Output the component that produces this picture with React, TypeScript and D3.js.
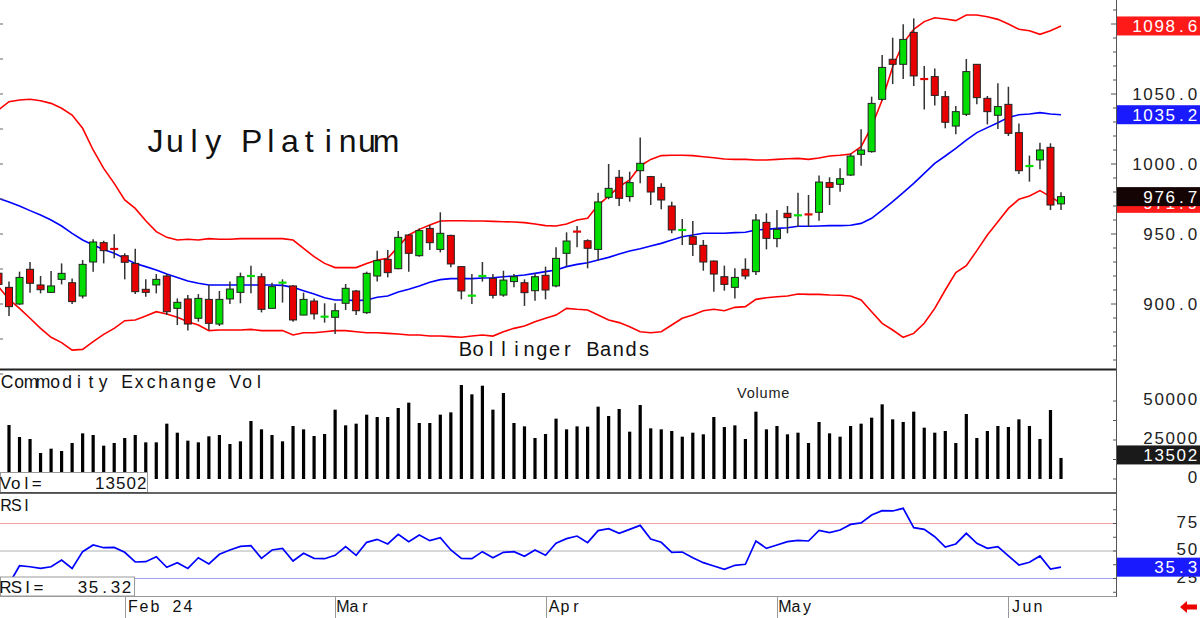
import React from "react";
import * as d3 from "d3";

// ---------------- DATA ----------------
const FIRST_BAR = -1; // partial bar at left edge
const opens = [922.0,
  911.9, 900.0, 924.8, 913.6, 908.3, 917.6, 915.2, 905.7, 930.0, 943.8,
  939.4, 934.5, 929.0, 910.5, 913.6, 920.0, 896.9, 903.6, 889.8, 903.3,
  885.7, 903.6, 908.3, 919.8, 919.5, 896.9, 915.0, 912.9, 892.1, 902.1,
  890.7, 890.5, 900.5, 909.3, 893.8, 920.0, 931.9, 925.2, 949.3, 934.5,
  954.0, 939.0, 949.0, 926.7, 905.7, 919.8, 918.3, 906.4, 916.0, 915.2,
  909.5, 920.5, 912.9, 936.2, 951.8, 945.2, 939.0, 976.2, 990.5, 976.7,
  995.2, 991.0, 983.3, 970.0, 952.6, 948.1, 941.9, 930.7, 919.5, 911.9,
  924.8, 923.1, 958.3, 946.7, 964.8, 963.1, 964.1, 965.5, 986.7, 985.5,
  992.1, 1006.9, 1008.8, 1046.2, 1074.8, 1071.2, 1094.0, 1060.8, 1062.4, 1048.1,
  1027.1, 1035.5, 1071.2, 1046.9, 1034.8, 1042.6, 1022.4, 998.3, 1002.9, 1011.9,
  971.5];
const highs = [926.7,
  916.0, 923.1, 930.0, 920.0, 923.6, 929.0, 918.3, 931.4, 946.2, 945.2,
  949.8, 936.2, 939.5, 917.6, 921.4, 921.4, 904.0, 906.4, 907.1, 913.6,
  909.3, 916.0, 922.4, 927.4, 921.9, 915.2, 917.6, 913.6, 908.1, 904.0,
  900.5, 900.5, 914.3, 910.0, 923.1, 938.1, 938.6, 952.1, 950.0, 954.0,
  956.4, 965.5, 949.5, 927.0, 921.4, 930.0, 921.4, 923.8, 921.4, 917.6,
  921.9, 926.7, 940.5, 951.2, 955.7, 946.2, 979.5, 1000.0, 995.7, 994.5,
  1019.0, 991.5, 986.2, 973.1, 960.7, 959.3, 945.7, 931.0, 927.4, 925.5,
  932.6, 964.3, 964.8, 967.1, 970.0, 979.5, 977.9, 991.7, 990.5, 996.9,
  1007.6, 1024.8, 1048.1, 1077.9, 1090.2, 1099.8, 1104.0, 1070.0, 1068.3, 1052.1,
  1041.4, 1075.0, 1071.5, 1048.6, 1057.6, 1055.2, 1029.0, 1006.0, 1015.2, 1014.8,
  979.8];
const lows = [912.0,
  891.4, 899.3, 908.1, 907.6, 908.3, 914.0, 900.0, 904.0, 923.1, 929.0,
  932.6, 917.6, 907.1, 905.2, 907.6, 892.1, 885.0, 881.0, 887.4, 881.4,
  884.3, 900.0, 900.5, 907.6, 894.0, 896.9, 901.0, 887.4, 892.1, 889.0,
  886.7, 878.6, 895.7, 892.1, 892.9, 916.0, 919.0, 924.8, 923.1, 933.8,
  938.6, 936.9, 926.2, 903.3, 900.0, 916.0, 904.0, 905.2, 911.9, 898.6,
  902.4, 903.3, 911.9, 926.7, 940.5, 925.5, 931.0, 974.8, 970.0, 973.1,
  986.2, 970.7, 967.6, 950.5, 942.1, 934.3, 923.8, 908.8, 909.5, 904.0,
  917.6, 920.7, 939.0, 940.5, 950.5, 955.2, 955.2, 959.5, 970.7, 980.2,
  991.4, 998.8, 1008.1, 1045.2, 1057.1, 1060.7, 1055.7, 1039.0, 1041.7, 1025.5,
  1021.2, 1034.3, 1042.6, 1028.3, 1025.0, 1020.0, 992.9, 987.4, 996.2, 967.1,
  967.1];
const closes = [914.0,
  898.1, 919.0, 914.8, 910.2, 912.9, 921.9, 901.7, 928.3, 944.3, 938.1,
  939.2, 929.8, 908.8, 908.3, 917.6, 894.5, 901.2, 885.7, 904.0, 886.2,
  903.3, 910.7, 919.5, 920.2, 896.2, 912.4, 915.5, 888.6, 903.3, 892.9,
  891.2, 895.2, 911.2, 895.2, 921.9, 931.0, 922.4, 947.6, 936.2, 952.4,
  943.8, 950.5, 928.6, 909.3, 906.2, 920.2, 906.2, 917.1, 919.5, 908.1,
  919.5, 910.0, 932.6, 945.0, 951.6, 939.8, 972.9, 982.6, 975.5, 986.7,
  1000.5, 980.0, 974.3, 952.9, 953.1, 942.6, 930.0, 921.4, 914.0, 919.0,
  920.0, 960.0, 946.9, 953.3, 961.7, 963.6, 963.9, 987.1, 983.3, 989.5,
  1005.7, 1010.0, 1043.3, 1069.0, 1071.2, 1089.0, 1062.9, 1060.6, 1049.0, 1029.8,
  1037.4, 1066.0, 1047.4, 1037.4, 1041.0, 1021.9, 995.2, 998.8, 1010.0, 970.7,
  976.7];

const upperBand = [1038.6,
  1044.5, 1045.7, 1046.2, 1045.2, 1043.3, 1039.8, 1035.0, 1025.5, 1010.0, 996.9,
  986.2, 974.3, 968.3, 959.5, 951.7, 947.6, 945.7, 946.2, 945.7, 946.7,
  946.2, 946.2, 946.7, 946.7, 946.7, 946.7, 946.7, 945.7, 939.8, 933.8,
  929.0, 926.0, 926.0, 926.0, 929.0, 931.4, 932.6, 941.0, 949.3, 953.3,
  956.4, 959.3, 959.5, 959.5, 959.3, 959.3, 959.0, 958.8, 958.6, 958.1,
  957.1, 956.0, 955.7, 957.1, 960.0, 961.2, 970.7, 977.1, 983.8, 988.6,
  998.6, 1003.3, 1006.0, 1006.2, 1006.2, 1006.0, 1005.2, 1004.5, 1003.6, 1003.3,
  1003.3, 1002.9, 1002.9, 1003.3, 1003.8, 1004.0, 1003.3, 1004.3, 1005.7, 1006.2,
  1007.1, 1012.4, 1026.7, 1045.7, 1069.5, 1086.2, 1096.2, 1101.7, 1104.5, 1103.6,
  1102.4, 1106.4, 1106.4, 1105.2, 1103.3, 1100.0, 1096.2, 1095.2, 1092.6, 1095.2,
  1098.6];
const middleBand = [975.5,
  972.9, 970.0, 966.7, 963.6, 960.0, 955.7, 950.5, 945.7, 942.1, 939.0,
  936.2, 932.6, 929.0, 926.7, 924.3, 921.4, 919.0, 916.4, 914.8, 913.6,
  913.6, 913.6, 913.6, 913.6, 913.6, 913.6, 913.3, 911.9, 909.5, 907.1,
  904.5, 902.9, 902.9, 902.4, 902.9, 904.8, 905.7, 908.6, 910.5, 912.9,
  915.5, 917.4, 918.1, 918.1, 918.1, 918.6, 918.8, 919.5, 920.0, 920.7,
  921.9, 923.1, 924.3, 926.7, 928.3, 929.5, 931.4, 933.3, 935.7, 937.9,
  939.5, 941.4, 943.3, 945.7, 948.1, 949.3, 950.5, 950.5, 950.5, 951.0,
  951.2, 952.9, 953.3, 954.0, 954.5, 955.5, 955.5, 955.7, 956.0, 956.0,
  956.2, 957.6, 961.2, 967.1, 973.1, 979.5, 986.2, 993.3, 1000.5, 1005.7,
  1011.2, 1017.1, 1022.4, 1026.0, 1029.5, 1033.3, 1035.2, 1035.7, 1036.7, 1035.7,
  1035.2];
const lowerBand = [912.4,
  903.3, 896.9, 889.8, 882.6, 876.2, 872.4, 867.1, 867.6, 873.1, 878.3,
  882.6, 888.1, 888.6, 891.4, 894.5, 892.9, 890.5, 887.4, 885.0, 881.0,
  881.4, 881.4, 881.4, 881.9, 881.0, 881.0, 881.0, 877.9, 879.5, 879.5,
  880.2, 881.0, 881.0, 880.2, 879.5, 879.5, 879.0, 878.6, 877.9, 877.9,
  877.1, 877.1, 876.7, 876.2, 877.1, 877.9, 877.1, 880.2, 882.6, 884.3,
  887.4, 889.8, 892.1, 896.9, 896.2, 895.7, 892.1, 888.6, 886.7, 883.8,
  880.2, 879.5, 880.2, 885.0, 889.8, 892.1, 895.2, 896.2, 895.2, 897.6,
  898.1, 903.3, 904.5, 905.2, 905.7, 907.1, 906.9, 906.9, 906.4, 906.2,
  905.7, 902.9, 894.5, 886.2, 881.4, 876.2, 879.0, 886.2, 896.9, 910.0,
  922.4, 927.4, 938.1, 949.3, 958.8, 968.3, 974.8, 977.1, 981.0, 976.7,
  971.9];

// bars 0..100
const volumes = [
  34610, 26920, 25640, 16670, 19440, 17950, 23080, 29270, 28200, 21370,
  23080, 26280, 28200, 23500, 23500, 35470, 29690, 24570, 23500, 27350,
  28200, 22440, 24150, 37180, 31840, 28200, 24150, 33970, 31840, 27560,
  28850, 44440, 34400, 35470, 41240, 39740, 39740, 45510, 48930, 35900,
  35900, 41240, 42730, 60250, 54270, 59820, 44440, 55130, 35900, 33760,
  26280, 28850, 38680, 31840, 33760, 33550, 46370, 40380, 44870, 30340,
  47430, 32480, 31840, 30770, 27130, 29690, 28640, 39740, 33330, 34400,
  25640, 43160, 31840, 33970, 28640, 29690, 23080, 36540, 29270, 27130,
  33970, 35470, 39310, 47860, 38250, 36540, 43160, 32910, 29690, 30770,
  23080, 41670, 26280, 30770, 33970, 33330, 38250, 33970, 25640, 44230,
  13502];
const rsi = [
  20.0, 36.6, 35.7, 34.2, 35.7, 41.8, 34.2, 49.4, 55.5, 53.0,
  53.3, 48.8, 40.0, 40.3, 44.8, 35.2, 39.4, 34.2, 43.9, 38.2,
  47.0, 50.9, 54.2, 54.8, 43.3, 50.9, 52.4, 40.9, 47.9, 43.3,
  43.0, 46.1, 53.9, 46.1, 57.9, 60.6, 56.4, 65.2, 58.5, 64.5,
  59.4, 62.1, 50.9, 43.3, 43.0, 49.4, 43.9, 48.8, 49.4, 45.2,
  50.9, 46.1, 57.0, 61.2, 63.6, 57.6, 68.5, 70.3, 66.1, 69.7,
  73.3, 60.9, 57.9, 48.8, 49.1, 43.9, 39.4, 36.4, 33.3, 37.0,
  37.9, 59.1, 52.4, 55.5, 58.5, 59.7, 59.1, 68.8, 66.7, 69.1,
  74.2, 75.5, 82.7, 86.7, 86.4, 88.8, 71.2, 69.7, 63.0, 53.6,
  56.4, 66.1, 57.0, 52.4, 53.9, 45.5, 37.3, 39.7, 45.5, 33.6,
  35.32];

const monthLabels = ["Feb 24", "Mar", "Apr", "May", "Jun"];
const monthStartBar = [11, 31, 51, 73, 95];
const priceTicks = [900, 950, 1000, 1050];
const volTicks = [0, 25000, 50000];
const rsiTicks = [25, 50, 75];
const title = "July Platinum";
const subtitle = "Bollinger Bands";
const volPanelTitle = "Commodity Exchange Vol";
const volLegend = "Volume";
const rsiTitle = "RSI";

// ---------------- LAYOUT ----------------
const W = 1200;
const H = 618;
const PLOT_R = 1116;
const GREEN = "#00dd00";
const RED = "#e80000";
const FONT = "'Liberation Sans', Arial, sans-serif";

const x = d3.scaleLinear().domain([0, 100]).range([9, 1061]);
const yP = d3.scaleLinear().domain([900, 1000]).range([304, 164]);
const yV = d3.scaleLinear().domain([0, 50000]).range([479, 401]);
const yR = d3.scaleLinear().domain([25, 75]).range([578.5, 523.5]);

type MTProps = {
  x: number; y: number; text: string; adv: number; size: number;
  fill?: string; anchor?: "start" | "end";
};
function MonoText({ x: x0, y, text, adv, size, fill = "#111", anchor = "start" }: MTProps) {
  const chars = Array.from(text);
  const start = anchor === "end" ? x0 - chars.length * adv : x0;
  const xs: number[] = [];
  let s = "";
  chars.forEach((ch, k) => {
    if (ch !== " ") {
      xs.push(start + (k + 0.5) * adv);
      s += ch;
    }
  });
  return (
    <text x={xs.map((v) => v.toFixed(1)).join(" ")} y={y} fontSize={size} fill={fill}
      textAnchor="middle" fontFamily={FONT}>{s}</text>
  );
}

function ValueBox({ y, text, bg, fg = "#fff" }: { y: number; text: string; bg: string; fg?: string }) {
  return (
    <g>
      <rect x={1117} y={y - 9.5} width={83} height={19} fill={bg} />
      <MonoText x={1198} y={y + 6} text={text} adv={11.1} size={17} fill={fg} anchor="end" />
    </g>
  );
}

export default function App() {
  const barIdx = opens.map((_, k) => k + FIRST_BAR);
  const bandLine = (vals: number[]) =>
    d3.line<number>().x((_, k) => x(k + FIRST_BAR)).y((v) => yP(v))(vals) || "";
  const rsiLine = d3.line<number>().x((_, k) => x(k)).y((v) => yR(v))(rsi) || "";

  const priceMinor = d3.range(860, 1120, 10);
  const leftTicks = d3.range(850, 1125, 25);
  const volMinor = d3.range(0, 62500, 12500);
  const rsiMinor = d3.range(12.5, 100, 12.5);

  const lastClose = closes[closes.length - 1];
  const lastUpper = upperBand[upperBand.length - 1];
  const lastMid = middleBand[middleBand.length - 1];
  const lastLower = lowerBand[lowerBand.length - 1];
  const lastVol = volumes[volumes.length - 1];
  const lastRsi = rsi[rsi.length - 1];

  return (
    <svg width={W} height={H} style={{ position: "absolute", left: 0, top: 0, background: "#fff" }}
      xmlns="http://www.w3.org/2000/svg">
      <defs>
        <clipPath id="mainClip"><rect x={0} y={0} width={PLOT_R} height={369} /></clipPath>
        <clipPath id="rsiClip"><rect x={0} y={494} width={PLOT_R} height={102} /></clipPath>
        <clipPath id="rsi25Clip"><rect x={1117} y={576} width={83} height={20} /></clipPath>
      </defs>
      <rect x={0} y={0} width={W} height={H} fill="#fff" />

      {/* ---------- main panel ---------- */}
      <g clipPath="url(#mainClip)">
        <path d={bandLine(upperBand)} fill="none" stroke="#ff0000" strokeWidth={1.6} />
        <path d={bandLine(lowerBand)} fill="none" stroke="#ff0000" strokeWidth={1.6} />
        <path d={bandLine(middleBand)} fill="none" stroke="#0000ff" strokeWidth={1.6} />
        {barIdx.map((i, k) => {
          const o = opens[k], c = closes[k], h = highs[k], l = lows[k];
          const cx = x(i);
          const up = c >= o;
          const doji = Math.abs(c - o) < 0.6;
          const top = yP(Math.max(o, c));
          const bot = yP(Math.min(o, c));
          return (
            <g key={i}>
              <line x1={cx} x2={cx} y1={yP(h)} y2={yP(l)} stroke="#333" strokeWidth={1.5} />
              {doji ? (
                <line x1={cx - 4} x2={cx + 4} y1={(top + bot) / 2} y2={(top + bot) / 2}
                  stroke={up ? GREEN : RED} strokeWidth={2.2} />
              ) : (
                <rect x={cx - 3.5} y={top} width={7} height={Math.max(1.5, bot - top)}
                  fill={up ? GREEN : RED} stroke="#222" strokeWidth={1} />
              )}
            </g>
          );
        })}
      </g>
      {leftTicks.map((p) => (
        <line key={"lt" + p} x1={0} x2={3} y1={yP(p)} y2={yP(p)} stroke="#666" strokeWidth={1} />
      ))}
      <MonoText x={146} y={152} text={title} adv={19.2} size={32} />
      <MonoText x={459} y={356} text={subtitle} adv={12.75} size={20} />

      {/* ---------- volume panel ---------- */}
      <line x1={0} x2={PLOT_R} y1={369.5} y2={369.5} stroke="#222" strokeWidth={2} />
      <MonoText x={1} y={388} text={volPanelTitle} adv={12} size={17.5} />
      <text x={737} y={398} fontSize={14.5} fontFamily={FONT} fill="#222" letterSpacing={0.8}>{volLegend}</text>
      {volumes.map((v, i) => (
        <rect key={"v" + i} x={x(i) - 1.6} y={yV(v)} width={3.2} height={yV(0) - yV(v)} fill="#000" />
      ))}
      <rect x={0.5} y={472.5} width={147} height={20} fill="#fff" stroke="#999" strokeWidth={1} />
      <MonoText x={0} y={489} text={"Vol=     " + lastVol} adv={10.5} size={17} />

      {/* ---------- RSI panel ---------- */}
      <line x1={0} x2={PLOT_R} y1={493} y2={493} stroke="#333" strokeWidth={1.5} />
      <line x1={0} x2={PLOT_R} y1={yR(75)} y2={yR(75)} stroke="#f4a0a0" strokeWidth={1} />
      <line x1={0} x2={PLOT_R} y1={yR(50)} y2={yR(50)} stroke="#b0b0b0" strokeWidth={1} />
      <line x1={0} x2={PLOT_R} y1={yR(25)} y2={yR(25)} stroke="#a0a0f4" strokeWidth={1} />
      <MonoText x={1} y={511} text={rsiTitle} adv={10.2} size={16} />
      <g clipPath="url(#rsiClip)">
        <path d={rsiLine} fill="none" stroke="#0000ff" strokeWidth={1.7} />
      </g>
      <rect x={0.5} y={577} width={134} height={19} fill="#fff" stroke="#999" strokeWidth={1} />
      <MonoText x={0} y={593} text={"RSI=   " + lastRsi.toFixed(2)} adv={11} size={17} />

      {/* ---------- x axis ---------- */}
      <line x1={0} x2={PLOT_R} y1={596.5} y2={596.5} stroke="#999" strokeWidth={1} />
      {monthLabels.map((m, k) => {
        const tx = Math.round(x(monthStartBar[k])) + 0.5;
        return (
          <g key={m}>
            <line x1={tx} x2={tx} y1={597} y2={618} stroke="#999" strokeWidth={1} />
            <MonoText x={tx + 2} y={612} text={m} adv={11} size={16} />
          </g>
        );
      })}

      {/* ---------- right axis ---------- */}
      <line x1={PLOT_R + 0.5} x2={PLOT_R + 0.5} y1={0} y2={597} stroke="#555" strokeWidth={1} />
      {priceMinor.map((p) => (
        <line key={"pm" + p} x1={p % 50 === 0 ? PLOT_R - 5 : PLOT_R - 3} x2={PLOT_R} y1={yP(p)} y2={yP(p)}
          stroke="#555" strokeWidth={1} />
      ))}
      {volMinor.map((v) => (
        <line key={"vm" + v} x1={PLOT_R - 3} x2={PLOT_R} y1={yV(v)} y2={yV(v)} stroke="#555" strokeWidth={1} />
      ))}
      {rsiMinor.map((r) => (
        <line key={"rm" + r} x1={PLOT_R - 3} x2={PLOT_R} y1={yR(r)} y2={yR(r)} stroke="#555" strokeWidth={1} />
      ))}
      {priceTicks.map((p) => (
        <MonoText key={"pt" + p} x={1198} y={yP(p) + 6} text={p.toFixed(1)} adv={11.1} size={17} fill="#222" anchor="end" />
      ))}
      {volTicks.map((v) => (
        <MonoText key={"vt" + v} x={1198} y={yV(v) + 4} text={String(v)} adv={11.1} size={17} fill="#222" anchor="end" />
      ))}
      {rsiTicks.filter((r) => r !== 25).map((r) => (
        <MonoText key={"rt" + r} x={1198} y={yR(r) + 4} text={String(r)} adv={11.1} size={17} fill="#222" anchor="end" />
      ))}
      {/* the 25 label sits mostly behind the RSI value box: only its lower edge shows */}
      <g clipPath="url(#rsi25Clip)">
        <MonoText x={1198} y={yR(25) + 4} text={String(rsiTicks[0])} adv={11.1} size={17} fill="#222" anchor="end" />
      </g>

      <ValueBox y={yP(lastUpper)} text={lastUpper.toFixed(1)} bg="#ff1a1a" />
      <ValueBox y={yP(lastMid)} text={lastMid.toFixed(1)} bg="#1a1aff" />
      <ValueBox y={yP(lastLower)} text={lastLower.toFixed(1)} bg="#ff1a1a" />
      <ValueBox y={yP(lastClose)} text={lastClose.toFixed(1)} bg="#140404" />
      <ValueBox y={yV(lastVol) - 3} text={String(lastVol)} bg="#1a1a1a" />
      <ValueBox y={yR(lastRsi)} text={lastRsi.toFixed(1)} bg="#1a1aff" />

      {/* red arrow */}
      <path d="M1180,607 L1187,601 L1187,604.5 L1197,604.5 L1197,609.5 L1187,609.5 L1187,613 Z" fill="#ee0000" />
    </svg>
  );
}
